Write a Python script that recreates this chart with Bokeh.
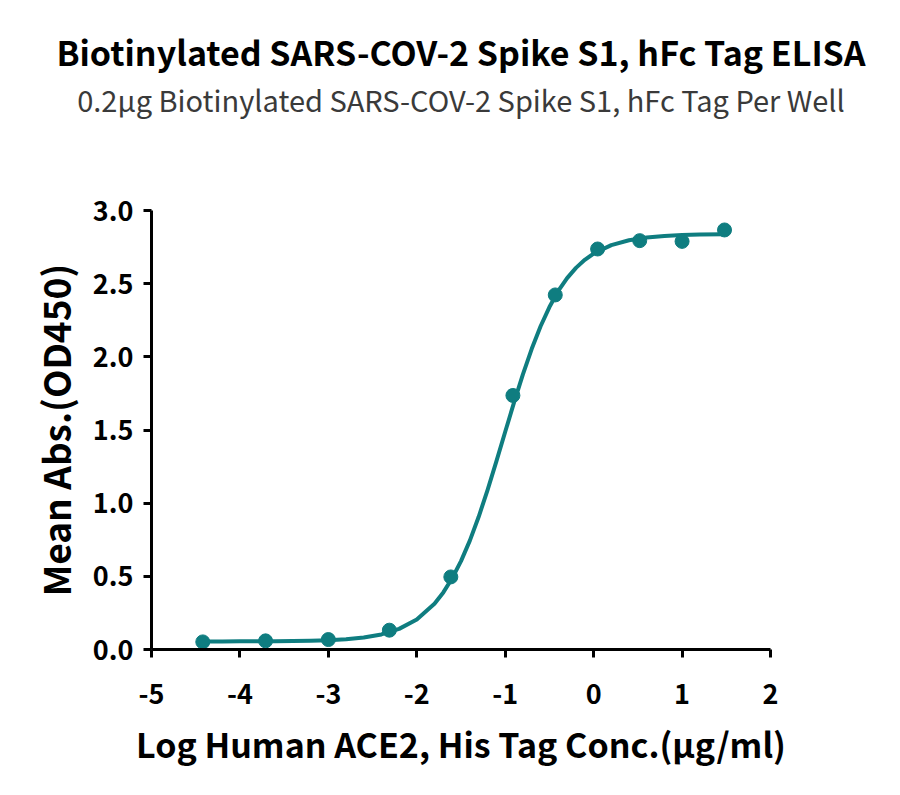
from bokeh.plotting import figure
from bokeh.embed import file_html
from bokeh.resources import INLINE
from bokeh.models import Range1d, Title, FixedTicker

# measured points (log conc, OD450)
log_conc = [-4.42, -3.71, -3.00, -2.31, -1.615, -0.913, -0.434, 0.045, 0.521, 1.00, 1.48]
mean_abs = [0.052, 0.059, 0.068, 0.132, 0.496, 1.736, 2.423, 2.737, 2.794, 2.789, 2.867]

# fitted curve
fit_x = [-4.42, -4.2, -4.0, -3.8, -3.6, -3.4, -3.2, -3.0, -2.8, -2.6, -2.4, -2.2, -2.0,
         -1.8, -1.7, -1.6, -1.5, -1.4, -1.3, -1.2, -1.1, -1.0, -0.9, -0.8, -0.7, -0.6,
         -0.5, -0.4, -0.3, -0.2, -0.1, 0.0, 0.2, 0.4, 0.6, 0.8, 1.0, 1.2, 1.48]
fit_y = [0.055, 0.055, 0.056, 0.056, 0.057, 0.058, 0.060, 0.064, 0.070, 0.082, 0.103, 0.141, 0.205,
         0.313, 0.390, 0.487, 0.604, 0.744, 0.907, 1.089, 1.285, 1.488, 1.689, 1.880, 2.055, 2.209,
         2.340, 2.450, 2.538, 2.608, 2.663, 2.706, 2.763, 2.797, 2.816, 2.826, 2.832, 2.836, 2.838]

x_ticks = [-5, -4, -3, -2, -1, 0, 1, 2]
y_ticks = [0.0, 0.5, 1.0, 1.5, 2.0, 2.5, 3.0]

title_text = "Biotinylated SARS-COV-2 Spike S1, hFc Tag ELISA"
subtitle_text = "0.2\u00b5g Biotinylated SARS-COV-2 Spike S1, hFc Tag Per Well"

teal = "#0f7d80"
font = "Noto Sans CJK SC"

p = figure(width=884, height=779, output_backend="svg", toolbar_location=None, tools=[],
           x_range=Range1d(-5, 2), y_range=Range1d(0, 3),
           min_border_left=151, min_border_right=114, min_border_top=210, min_border_bottom=130,
           x_axis_label="Log Human ACE2, His Tag Conc.(\u00b5g/ml)",
           y_axis_label="Mean Abs.(OD450)")

p.grid.visible = False
p.outline_line_color = None

for ax in [p.xaxis[0], p.yaxis[0]]:
    ax.axis_line_width = 3
    ax.major_tick_line_width = 3
    ax.major_tick_out = 8
    ax.major_tick_in = 0
    ax.minor_tick_out = 0
    ax.minor_tick_in = 0
    ax.major_label_text_font = font
    ax.major_label_text_font_style = "bold"
    ax.major_label_text_font_size = "27px"
    ax.major_label_text_color = "black"
    ax.axis_label_text_font = font
    ax.axis_label_text_font_style = "bold"
    ax.axis_label_text_color = "black"

p.xaxis.axis_label_text_font_size = "34px"
p.yaxis.axis_label_text_font_size = "37px"
p.xaxis.ticker = FixedTicker(ticks=x_ticks)
p.yaxis.ticker = FixedTicker(ticks=y_ticks)
p.xaxis.major_label_overrides = {t: str(t) for t in x_ticks}
p.yaxis.major_label_overrides = {t: "%.1f" % t for t in y_ticks}
p.xaxis.major_label_standoff = 26
p.yaxis.major_label_standoff = 10
p.xaxis.axis_label_standoff = 12
p.yaxis.axis_label_standoff = 8

p.line(fit_x, fit_y, color=teal, line_width=4, line_join="round", line_cap="round")
p.scatter(log_conc, mean_abs, size=14, color=teal)

# titles: an empty spacer keeps the gap between subtitle and plot,
# then subtitle, then the main title on top
p.add_layout(Title(text=" ", align="center", standoff=78, text_font_size="10px"), "above")
p.add_layout(Title(text=subtitle_text, align="center", standoff=0,
                   text_font=font, text_font_style="normal", text_font_size="29px",
                   text_color="#3a3a3a"), "above")
p.add_layout(Title(text=title_text, align="center", standoff=0,
                   text_font=font, text_font_style="bold", text_font_size="34px",
                   text_color="black"), "above")

open("out.html", "w").write(file_html(p, INLINE))
